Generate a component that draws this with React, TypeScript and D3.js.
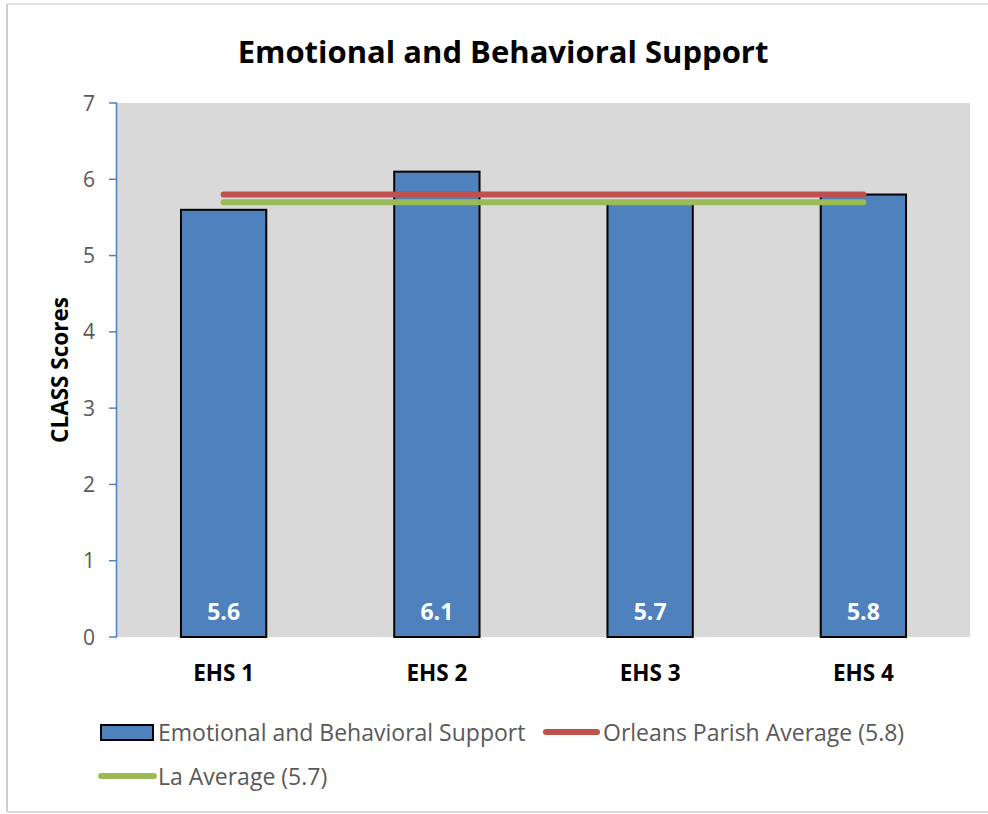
import React from 'react';
import * as d3 from 'd3';

const categories = ['EHS 1', 'EHS 2', 'EHS 3', 'EHS 4'];
const scores = [5.6, 6.1, 5.7, 5.8];
const orleansAvg = 5.8;
const laAvg = 5.7;
const yTicks = [0, 1, 2, 3, 4, 5, 6, 7];

const chartTitle = 'Emotional and Behavioral Support';
const yTitle = 'CLASS Scores';
const legendLabels = ['Emotional and Behavioral Support', 'Orleans Parish Average (5.8)', 'La Average (5.7)'];

const W = 988;
const H = 814;
const FONT = "'Open Sans', sans-serif";

const BAR_BLUE = '#4F81BD';
const RED = '#C0504D';
const GREEN = '#9BBB59';
const GRAY_TEXT = '#595959';

const App: React.FC = () => {
    const plot = { left: 117, right: 970, top: 103, bottom: 637 };

    const x = d3.scaleBand<string>()
        .domain(categories)
        .range([plot.left, plot.right])
        .paddingInner(0.6)
        .paddingOuter(0.3);

    const y = d3.scaleLinear()
        .domain([0, 7])
        .range([plot.bottom, plot.top]);

    const center = (c: string) => (x(c) ?? 0) + x.bandwidth() / 2;

    const avgLine = d3.line<[number, number]>()
        .x(d => d[0])
        .y(d => d[1]);

    const first = center(categories[0]);
    const last = center(categories[categories.length - 1]);

    return (
        <div style={{ position: 'fixed', left: 0, top: 0 }}>
            <svg width={W} height={H} style={{ display: 'block', fontFamily: FONT }}>
                <rect x={0} y={0} width={W} height={H} fill="white" />
                {/* outer frame */}
                <line x1={7} y1={4} x2={7} y2={812} stroke="#BFBFBF" strokeWidth={1.5} />
                <line x1={7} y1={4} x2={W} y2={4} stroke="#D9D9D9" strokeWidth={1.5} />
                <line x1={7} y1={812} x2={W} y2={812} stroke="#D9D9D9" strokeWidth={2} />

                {/* title */}
                <text x={503} y={63} textAnchor="middle" fontSize={31} fontWeight="bold" fill="black">
                    {chartTitle}
                </text>

                {/* plot area */}
                <rect x={plot.left} y={plot.top} width={plot.right - plot.left} height={plot.bottom - plot.top} fill="#D9D9D9" />

                {/* y axis */}
                <line x1={plot.left - 0.5} y1={plot.top} x2={plot.left - 0.5} y2={plot.bottom} stroke="#4F81BD" strokeWidth={1.5} />
                {yTicks.map(t => (
                    <g key={t}>
                        <line x1={109} x2={plot.left} y1={y(t)} y2={y(t)} stroke="#4F81BD" strokeWidth={1.5} />
                        <text x={95} y={y(t)} dy="0.36em" textAnchor="end" fontSize={21} fill={GRAY_TEXT}>{t}</text>
                    </g>
                ))}
                <text transform={`translate(68, 370) rotate(-90)`} textAnchor="middle" fontSize={22.5} fontWeight="bold" fill="black">
                    {yTitle}
                </text>

                {/* bars */}
                {categories.map((c, i) => (
                    <g key={c}>
                        <rect
                            x={x(c)}
                            y={y(scores[i])}
                            width={x.bandwidth()}
                            height={y(0) - y(scores[i])}
                            fill={BAR_BLUE}
                            stroke="black"
                            strokeWidth={2}
                        />
                        <text x={center(c)} y={612} dy="0.36em" textAnchor="middle" fontSize={23} fontWeight="bold" fill="white">
                            {scores[i].toFixed(1)}
                        </text>
                        <text x={center(c)} y={673} dy="0.36em" textAnchor="middle" fontSize={22.5} fontWeight="bold" fill="black">
                            {c}
                        </text>
                    </g>
                ))}

                {/* average lines */}
                <path d={avgLine([[first, y(orleansAvg)], [last, y(orleansAvg)]]) ?? ''} stroke={RED} strokeWidth={6} strokeLinecap="round" fill="none" />
                <path d={avgLine([[first, y(laAvg)], [last, y(laAvg)]]) ?? ''} stroke={GREEN} strokeWidth={6} strokeLinecap="round" fill="none" />

                {/* legend */}
                <rect x={101} y={725} width={52} height={15} fill={BAR_BLUE} stroke="black" strokeWidth={2} />
                <text x={158} y={733} dy="0.36em" fontSize={23} fill={GRAY_TEXT}>{legendLabels[0]}</text>
                <line x1={546} x2={597} y1={732} y2={732} stroke={RED} strokeWidth={6} strokeLinecap="round" />
                <text x={603} y={733} dy="0.36em" fontSize={23} fill={GRAY_TEXT}>{legendLabels[1]}</text>
                <line x1={101} x2={154} y1={776} y2={776} stroke={GREEN} strokeWidth={6} strokeLinecap="round" />
                <text x={158} y={777} dy="0.36em" fontSize={23} fill={GRAY_TEXT}>{legendLabels[2]}</text>
            </svg>
        </div>
    );
};

export default App;
